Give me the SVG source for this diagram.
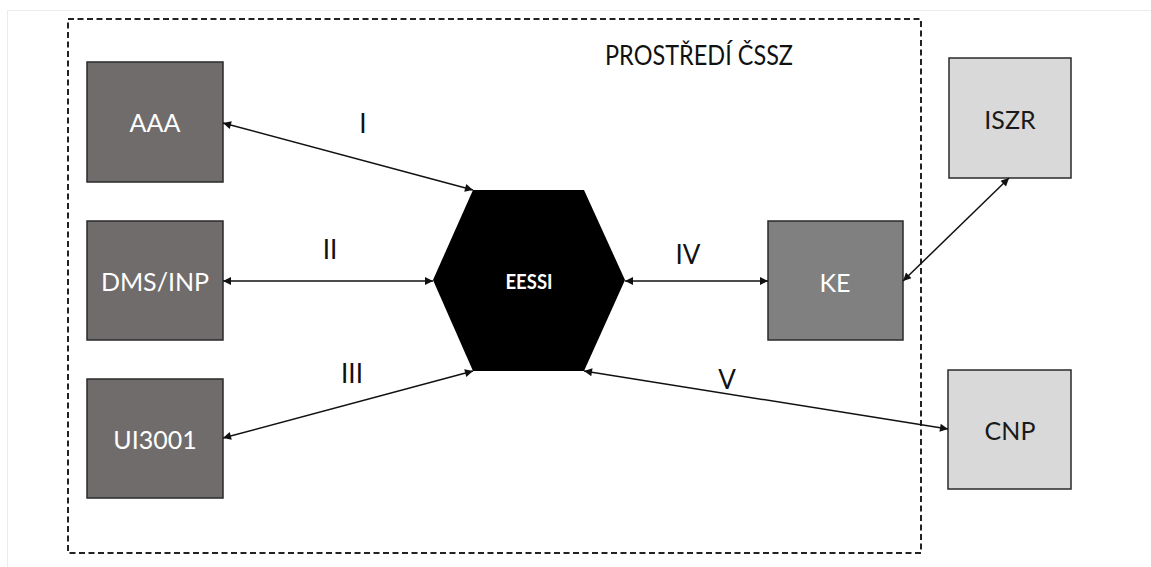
<svg xmlns="http://www.w3.org/2000/svg" width="1151" height="567" viewBox="0 0 1151 567">
  <style>
    .frame { fill: none; stroke: #ececec; stroke-width: 1; }
    .zone { fill: none; stroke: #222; stroke-width: 2; stroke-dasharray: 6 3.5; }
    .box { stroke: #2a2a2a; stroke-width: 1.5; }
    .dark { fill: #6f6c6b; }
    .mid { fill: #808080; }
    .light { fill: #d9d9d9; }
    .lbl { font-family: Lato, "Open Sans", "Liberation Sans", sans-serif; font-size: 25px; text-anchor: middle; }
    .lbl-w { fill: #ffffff; }
    .lbl-k { fill: #1a1a1a; }
    .hub { fill: #000; }
    .hub-lbl { font-family: Lato, "Open Sans", "Liberation Sans", sans-serif; font-size: 20px; font-weight: bold; fill: #fff; text-anchor: middle; }
    .num { font-family: Lato, "Open Sans", "Liberation Sans", sans-serif; font-size: 26px; fill: #111; text-anchor: middle; }
    .title { font-family: Lato, "Open Sans", "Liberation Sans", sans-serif; font-size: 26px; fill: #111; }
    .link { stroke: #111; stroke-width: 1.5; fill: none; marker-start: url(#tip); marker-end: url(#tip); }
  </style>
  <defs>
    <marker id="tip" viewBox="0 0 10 10" refX="10" refY="5" markerWidth="10" markerHeight="8" markerUnits="userSpaceOnUse" orient="auto-start-reverse">
      <path d="M0,0 L10,5 L0,10 z" fill="#111"/>
    </marker>
  </defs>

  <rect width="1151" height="567" fill="#ffffff"/>
  <rect class="frame" x="7.5" y="10.5" width="1160" height="570"/>

  <!-- CSSZ environment boundary -->
  <g id="zone">
    <rect class="zone" x="68" y="19" width="853" height="534"/>
    <text class="title" x="605" y="65" textLength="188" lengthAdjust="spacingAndGlyphs">PROSTŘEDÍ ČSSZ</text>
  </g>

  <g id="aaa">
    <rect class="box dark" x="87" y="62" width="136" height="120"/>
    <text class="lbl lbl-w" x="155" y="132">AAA</text>
  </g>
  <g id="dms-inp">
    <rect class="box dark" x="87" y="221" width="136" height="119"/>
    <text class="lbl lbl-w" x="155" y="291">DMS/INP</text>
  </g>
  <g id="ui3001">
    <rect class="box dark" x="87" y="379" width="136" height="119"/>
    <text class="lbl lbl-w" x="155" y="449">UI3001</text>
  </g>

  <g id="eessi">
    <polygon class="hub" points="473,190 584,190 625,280 584,371 473,371 433,280"/>
    <text class="hub-lbl" x="529" y="289" textLength="47" lengthAdjust="spacingAndGlyphs">EESSI</text>
  </g>

  <g id="ke">
    <rect class="box mid" x="768" y="221" width="135" height="119"/>
    <text class="lbl lbl-w" x="835" y="292">KE</text>
  </g>
  <g id="iszr">
    <rect class="box light" x="949" y="58" width="122" height="120"/>
    <text class="lbl lbl-k" x="1010" y="129">ISZR</text>
  </g>
  <g id="cnp">
    <rect class="box light" x="948" y="370" width="123" height="119"/>
    <text class="lbl lbl-k" x="1010" y="440">CNP</text>
  </g>

  <!-- interfaces -->
  <g id="connectors">
    <line class="link" x1="223" y1="123" x2="473" y2="190"/>
    <line class="link" x1="223" y1="281" x2="433" y2="281"/>
    <line class="link" x1="223" y1="438" x2="473" y2="371"/>
    <line class="link" x1="625" y1="281" x2="768" y2="281"/>
    <line class="link" x1="584" y1="371" x2="948" y2="429"/>
    <line class="link" x1="903" y1="281" x2="1009" y2="178"/>
    <text class="num" x="363" y="133">I</text>
    <text class="num" x="330" y="259">II</text>
    <text class="num" x="352" y="383">III</text>
    <text class="num" x="688" y="264">IV</text>
    <text class="num" x="727" y="389">V</text>
  </g>
</svg>
